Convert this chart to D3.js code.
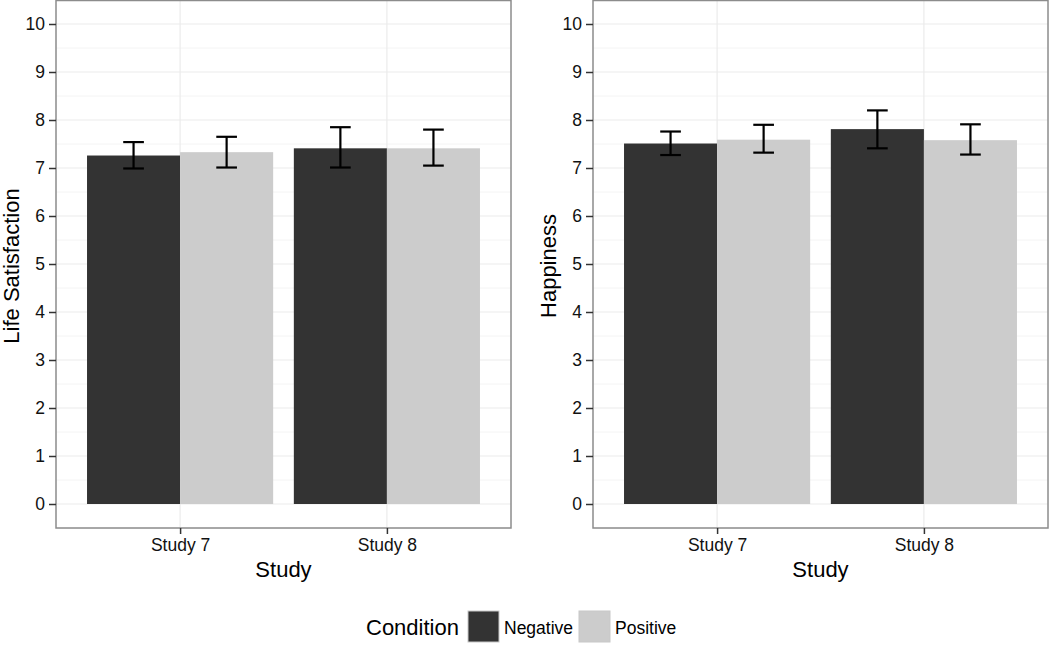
<!DOCTYPE html>
<html>
<head>
<meta charset="utf-8">
<script src="https://cdn.jsdelivr.net/npm/d3@7"></script>
<style>
  body { margin: 0; background: #fff; }
  svg { display: block; font-family: "Liberation Sans", Arial, sans-serif; }
</style>
</head>
<body>
<svg id="chart" width="1050" height="645"></svg>
<script>
// data
var studies = ["Study 7", "Study 8"];
var conditions = ["Negative", "Positive"];
var yTicks = [0, 1, 2, 3, 4, 5, 6, 7, 8, 9, 10];

var lifeSatMean = [[7.26, 7.33], [7.41, 7.41]];
var lifeSatLow  = [[6.99, 7.01], [7.01, 7.05]];
var lifeSatHigh = [[7.54, 7.65], [7.85, 7.80]];

var happyMean = [[7.51, 7.59], [7.81, 7.58]];
var happyLow  = [[7.27, 7.32], [7.41, 7.28]];
var happyHigh = [[7.76, 7.90], [8.20, 7.91]];

var fills = { Negative: "#333333", Positive: "#cccccc" };

var svg = d3.select("#chart");

var panels = [
  { left: 56, title: "Life Satisfaction", mean: lifeSatMean, low: lifeSatLow, high: lifeSatHigh },
  { left: 593, title: "Happiness", mean: happyMean, low: happyLow, high: happyHigh }
];

var panelW = 455, panelTop = 0, panelBottom = 528;

var y = d3.scaleLinear().domain([-0.5, 10.5]).range([panelBottom, panelTop]);

panels.forEach(function(p) {
  // ggplot style discrete expansion: 0.6 units each side
  var x = d3.scaleLinear().domain([0.4, 2.6]).range([p.left, p.left + panelW]);
  var unit = x(1) - x(0);
  var g = svg.append("g");

  // minor grid
  for (var v = -0.5; v <= 10.5; v += 1) {
    g.append("line")
      .attr("x1", p.left).attr("x2", p.left + panelW)
      .attr("y1", y(v)).attr("y2", y(v))
      .attr("stroke", "#f4f4f4").attr("stroke-width", 1);
  }
  // major grid
  yTicks.forEach(function(t) {
    g.append("line")
      .attr("x1", p.left).attr("x2", p.left + panelW)
      .attr("y1", y(t)).attr("y2", y(t))
      .attr("stroke", "#ebebeb").attr("stroke-width", 1.2);
  });
  studies.forEach(function(s, i) {
    g.append("line")
      .attr("x1", x(i + 1)).attr("x2", x(i + 1))
      .attr("y1", panelTop).attr("y2", panelBottom)
      .attr("stroke", "#ebebeb").attr("stroke-width", 1.2);
  });

  // bars
  studies.forEach(function(s, i) {
    conditions.forEach(function(c, j) {
      var x0 = x(i + 1) - 0.45 * unit + j * 0.45 * unit;
      g.append("rect")
        .attr("x", x0)
        .attr("y", y(p.mean[i][j]))
        .attr("width", 0.45 * unit)
        .attr("height", y(0) - y(p.mean[i][j]))
        .attr("fill", fills[c]);
    });
  });

  // error bars
  studies.forEach(function(s, i) {
    conditions.forEach(function(c, j) {
      var cx = x(i + 1) - 0.225 * unit + j * 0.45 * unit;
      var hw = 0.05 * unit;
      var eb = g.append("g").attr("stroke", "#000").attr("stroke-width", 2.2).attr("fill", "none");
      eb.append("line").attr("x1", cx).attr("x2", cx).attr("y1", y(p.low[i][j])).attr("y2", y(p.high[i][j]));
      eb.append("line").attr("x1", cx - hw).attr("x2", cx + hw).attr("y1", y(p.low[i][j])).attr("y2", y(p.low[i][j]));
      eb.append("line").attr("x1", cx - hw).attr("x2", cx + hw).attr("y1", y(p.high[i][j])).attr("y2", y(p.high[i][j]));
    });
  });

  // border
  g.append("rect")
    .attr("x", p.left).attr("y", panelTop + 0.5)
    .attr("width", panelW).attr("height", panelBottom - panelTop - 0.5)
    .attr("fill", "none").attr("stroke", "#8c8c8c").attr("stroke-width", 1.5);

  // y axis
  var yAxis = g.append("g")
    .attr("transform", "translate(" + p.left + ",0)")
    .call(d3.axisLeft(y).tickValues(yTicks).tickSize(7).tickPadding(4));
  yAxis.select(".domain").remove();
  yAxis.selectAll(".tick line").attr("stroke", "#333").attr("stroke-width", 1.5);
  yAxis.selectAll(".tick text").attr("fill", "#111").style("font-size", "17.5px").style("font-family", "Liberation Sans, Arial, sans-serif");

  // x axis
  var xb = d3.scaleOrdinal().domain(studies).range(studies.map(function(s, i) { return x(i + 1); }));
  var xAxis = g.append("g")
    .attr("transform", "translate(0," + panelBottom + ")")
    .call(d3.axisBottom(xb).tickSize(6).tickPadding(5));
  xAxis.select(".domain").remove();
  xAxis.selectAll(".tick line").attr("stroke", "#333").attr("stroke-width", 1.5);
  xAxis.selectAll(".tick text").attr("fill", "#111").style("font-size", "17.5px").style("font-family", "Liberation Sans, Arial, sans-serif");

  // titles
  g.append("text")
    .attr("x", p.left + panelW / 2).attr("y", 577)
    .attr("text-anchor", "middle")
    .style("font-size", "22px").attr("fill", "#000")
    .text("Study");
  g.append("text")
    .attr("transform", "translate(" + (p.left - 37) + "," + (panelBottom / 2 + 2) + ") rotate(-90)")
    .attr("text-anchor", "middle")
    .style("font-size", "22px").attr("fill", "#000")
    .text(p.title);
});

// legend
var legend = svg.append("g");
legend.append("text")
  .attr("x", 366).attr("y", 635)
  .style("font-size", "22px").attr("fill", "#000")
  .text("Condition");
var keyX = [468, 579];
conditions.forEach(function(c, j) {
  legend.append("rect")
    .attr("x", keyX[j]).attr("y", 611)
    .attr("width", 31).attr("height", 31)
    .attr("fill", fills[c]).attr("stroke", "#c8c8c8").attr("stroke-width", 1);
  legend.append("text")
    .attr("x", keyX[j] + 36).attr("y", 634)
    .style("font-size", "17.5px").attr("fill", "#000")
    .text(c);
});
</script>
</body>
</html>
